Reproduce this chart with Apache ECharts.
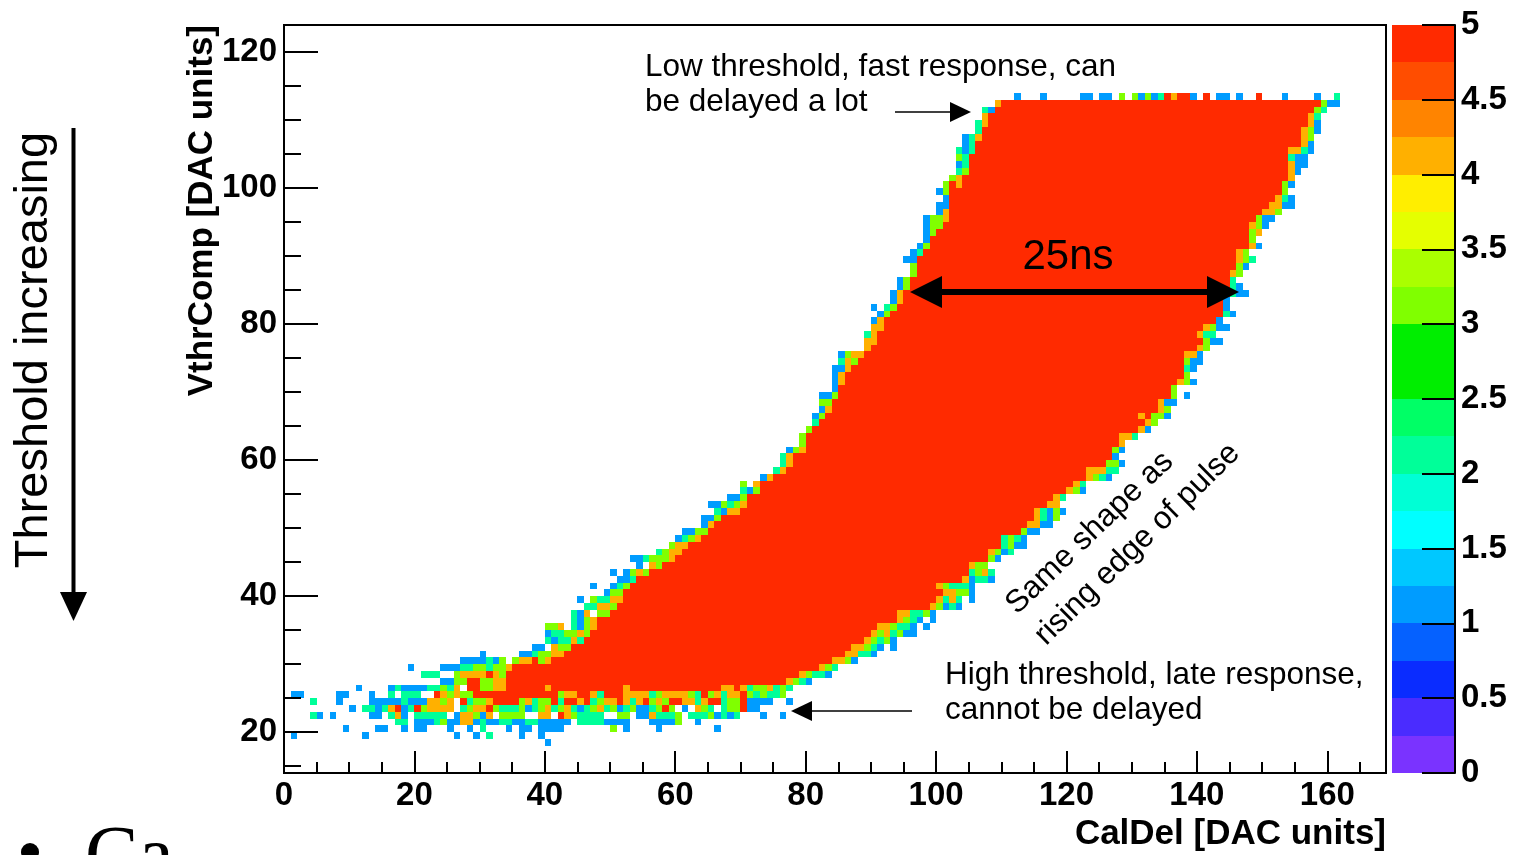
<!DOCTYPE html>
<html>
<head>
<meta charset="utf-8">
<title>VthrComp vs CalDel</title>
<script src="https://cdn.jsdelivr.net/npm/echarts@6.0.0/dist/echarts.min.js"></script>
<style>
  html, body { margin: 0; padding: 0; background: #fff; }
  #chart-container { width: 1514px; height: 855px; }
</style>
</head>
<body>
<div id="chart-container"></div>
<script>
// colour bar of the histogram, 20 bands from 0 (bottom) to 5 (top)
var palette = [
  '#7a33ff', '#4a2cff', '#0a2cff', '#0561ff', '#009cff',
  '#00c8ff', '#00ffff', '#00ffd5', '#00ff99', '#00ff66',
  '#00ee00', '#00ee00', '#80ff00', '#aaff00', '#e5ff00',
  '#ffee00', '#ffb000', '#ff8400', '#ff4d00', '#ff2a00'
];

var xMajorTicks = [0, 20, 40, 60, 80, 100, 120, 140, 160];
var xMinorTicks = [5, 10, 15, 25, 30, 35, 45, 50, 55, 65, 70, 75, 85, 90, 95,
                   105, 110, 115, 125, 130, 135, 145, 150, 155, 165];
var yMajorTicks = [20, 40, 60, 80, 100, 120];
var yMinorTicks = [15, 25, 30, 35, 45, 50, 55, 65, 70, 75, 85, 90, 95, 105, 110, 115];
var zTicks = [0, 0.5, 1, 1.5, 2, 2.5, 3, 3.5, 4, 4.5, 5];

// rows of the band: VthrComp bin, first and last+1 CalDel bin of the full (5) run,
// and the cells just left / right of that run ('.' = empty)
var bandRows  = [27, 28, 29, 30, 31, 32, 33, 34, 35, 36,
                 37, 38, 39, 40, 41, 42, 43, 44, 45, 46,
                 47, 48, 49, 50, 51, 52, 53, 54, 55, 56,
                 57, 58, 59, 60, 61, 62, 63, 64, 65, 66,
                 67, 68, 69, 70, 71, 72, 73, 74, 75, 76,
                 77, 78, 79, 80, 81, 82, 83, 84, 85, 86,
                 87, 88, 89, 90, 91, 92, 93, 94, 95, 96,
                 97, 98, 99, 100, 101, 102, 103, 104, 105, 106,
                 107, 108, 109, 110, 111, 112];
var redStart  = [34, 34, 35, 41, 43, 44, 46, 47, 48, 48,
                 50, 51, 52, 52, 53, 54, 56, 58, 60, 61,
                 62, 64, 65, 66, 67, 70, 71, 71, 73, 73,
                 75, 77, 78, 78, 80, 80, 80, 81, 82, 83,
                 84, 84, 85, 85, 86, 86, 87, 88, 89, 90,
                 91, 91, 92, 92, 93, 94, 95, 95, 96, 96,
                 97, 97, 97, 98, 99, 99, 100, 101, 102, 102,
                 102, 102, 102, 104, 104, 105, 105, 105, 106, 106,
                 107, 107, 108, 108, 109, 110];
var redEnd    = [77, 79, 82, 84, 86, 87, 89, 90, 91, 94,
                 94, 99, 100, 101, 100, 104, 105, 105, 108, 108,
                 110, 110, 113, 114, 115, 115, 117, 118, 120, 121,
                 123, 123, 126, 127, 127, 128, 128, 131, 132, 131,
                 134, 134, 136, 136, 137, 138, 138, 138, 138, 140,
                 141, 140, 141, 143, 144, 144, 144, 145, 145, 145,
                 145, 146, 146, 146, 148, 148, 148, 148, 149, 150,
                 151, 152, 153, 153, 154, 154, 154, 154, 154, 156,
                 156, 156, 157, 157, 158, 159];
var leftEdge  = ['1133553344', '222..34444543', '1....11122332334', '1111213.344534', '1.....1123344',
                 '11.433', '212242', '1223343', '334.2134', '2134',
                 '214.33', '22443', '1.32244', '133', '1..123',
                 '112', '1.1343', '1.43', '1123334', '2344',
                 '344', '1234', '1133', '14', '113',
                 '2144', '113234', '113', '213', '3.4',
                 '14', '24', '24', '24', '134',
                 '3', '3', '3', '2', '13',
                 '14', '33', '113', '1', '14',
                 '14', '114', '243', '1344', '4',
                 '44', '24', '44', '14', '13',
                 '1.23', '14', '14', '13', '13',
                 '3', '3', '11', '12', '13',
                 '1', '13', '133', '1334', '14',
                 '11', '1', '13', '354', '34',
                 '23', '12', '32', '212', '12',
                 '124', '2', '24', '4', '21', '4'];
var rightEdge = ['4321', '43221', '432', '4431', '44221',
                 '44321.1', '43231', '4342311', '443221.1', '4321.1',
                 '442231', '43121', '4242.1', '44331', '432221',
                 '41221', '2342', '433', '31', '4312',
                 '2311', '2321', '311', '4411', '4213',
                 '42131', '44', '42', '431', '42',
                 '4321', '44422', '331', '1', '31',
                 '4', '442', '41', '43', '45331',
                 '43', '411', '3.1', '3', '431',
                 '3', '21', '311', '441', '43',
                 '311', '422', '4311', '1', '21',
                 '1', '1', '211', '21', '2',
                 '43', '31', '432', '43', '41',
                 '3', '34', '431', '311', '443',
                 '4411', '421', '3', '31', '4',
                 '41', '411', '211', '4421', '41',
                 '43', '431', '41', '42', '32', '311'];

// scattered rows below the band and above its top, read cell by cell from the left
var sparseRows  = [18, 19, 20, 21, 22, 23, 24, 25, 26, 113];
var sparseStart = [0, 0, 0, 0, 0, 0, 0, 0, 0, 110];
var sparseCells = [
  '..........' + '..........' + '..........' + '..........' + '1',
  '.1........' + '..1.......' + '......1..1' + '.2....1..1',
  '.........1' + '....11..1.' + '11...1..1.' + '2...1.11.1' + '111.......' + '3.1....1..' + '......1...',
  '..........' + '.......22.' + '1112311441' + '2112211221' + '1111.22221' + '111...1111' + '3..1......',
  '....21.1..' + '...11.241.' + '22222.1443' + '14.3333..4' + '4.5432222.' + '.33.114222' + '3.22231212' + '...1..1...',
  '..........' + '1.22124512' + '534444.234' + '4532223123' + '4234212342' + '3123112353' + '.1.432.233' + '511',
  '....2...1.' + '...1111121' + '114434.523' + '3455553423' + '3525545234' + '4542453435' + '5442455233' + '51111..1',
  '.11.....11' + '...1..2.22' + '2..5434335' + '5555555555' + '5534455425' + '5544442344' + '4432534244' + '5323223',
  '..........' + '.1....1211' + '1122324.55' + '3344555555' + '4555555555' + '5545555555' + '5555555445' + '42334232',
  '..1...1...' + '..11.11.3.' + '3131254551' + '.5.11.1..5' + '...1....1.' + '.2'
];

// cells as [x0, x1, y, value], equal neighbours merged into one run
var cells = [];
function addRow(y, x0, s) {
  var k = 0;
  while (k < s.length) {
    var c = s.charAt(k);
    if (c === '.') { k++; continue; }
    var e = k;
    while (e + 1 < s.length && s.charAt(e + 1) === c) e++;
    cells.push([x0 + k, x0 + e + 1, y, +c]);
    k = e + 1;
  }
}
for (var i = 0; i < bandRows.length; i++) {
  cells.push([redStart[i], redEnd[i], bandRows[i], 5]);
  addRow(bandRows[i], redStart[i] - leftEdge[i].length, leftEdge[i]);
  addRow(bandRows[i], redEnd[i], rightEdge[i]);
}
for (i = 0; i < sparseRows.length; i++) {
  addRow(sparseRows[i], sparseStart[i], sparseCells[i]);
}

function colourOf(v) {
  var idx = Math.min(palette.length - 1, Math.floor(v / 5 * palette.length));
  return palette[idx];
}

var dom = document.getElementById('chart-container');
var myChart = echarts.init(dom, null, { renderer: 'canvas' });

var labelFont = { color: '#000', fontFamily: 'Liberation Sans', fontWeight: 'bold', fontSize: 33 };
var tickStyle = { color: '#000', width: 2 };
var noteFont = '31.5px "Liberation Sans"';

var option = {
  animation: false,
  backgroundColor: '#fff',
  grid: [
    { left: 284, top: 25, width: 1102, height: 748, show: true, z: 10,
      borderColor: '#000', borderWidth: 2, backgroundColor: 'transparent' },
    { left: 1392, top: 25, width: 63, height: 748 }
  ],
  xAxis: [
    { gridIndex: 0, type: 'value', min: 0, max: 169, position: 'bottom', z: 10,
      axisLine: { show: false, onZero: false }, splitLine: { show: false },
      axisTick: { inside: true, length: 22, customValues: xMajorTicks, lineStyle: tickStyle },
      axisLabel: Object.assign({ customValues: xMajorTicks, margin: 6 }, labelFont) },
    { gridIndex: 0, type: 'value', min: 0, max: 169, position: 'bottom', z: 10,
      axisLine: { show: false, onZero: false }, splitLine: { show: false },
      axisTick: { inside: true, length: 11, customValues: xMinorTicks, lineStyle: tickStyle },
      axisLabel: { show: false } },
    { gridIndex: 1, type: 'value', min: 0, max: 1, show: false }
  ],
  yAxis: [
    { gridIndex: 0, type: 'value', min: 14, max: 124, position: 'left', z: 10,
      axisLine: { show: false, onZero: false }, splitLine: { show: false },
      axisTick: { inside: true, length: 34, customValues: yMajorTicks, lineStyle: tickStyle },
      axisLabel: Object.assign({ customValues: yMajorTicks, margin: 7 }, labelFont) },
    { gridIndex: 0, type: 'value', min: 14, max: 124, position: 'left', z: 10,
      axisLine: { show: false, onZero: false }, splitLine: { show: false },
      axisTick: { inside: true, length: 17, customValues: yMinorTicks, lineStyle: tickStyle },
      axisLabel: { show: false } },
    { gridIndex: 1, type: 'value', min: 0, max: 5, position: 'right', z: 10,
      axisLine: { show: true, onZero: false, lineStyle: tickStyle }, splitLine: { show: false },
      axisTick: { inside: true, length: 33, customValues: zTicks, lineStyle: tickStyle },
      axisLabel: Object.assign({ customValues: zTicks, margin: 6 }, labelFont) }
  ],
  series: [
    {
      name: 'hits',
      type: 'custom',
      xAxisIndex: 0,
      yAxisIndex: 0,
      silent: true,
      z: 2,
      encode: { x: [0, 1], y: 2 },
      renderItem: function (params, api) {
        var p0 = api.coord([api.value(0), api.value(2) + 1]);
        var p1 = api.coord([api.value(1), api.value(2)]);
        var x0 = Math.round(p0[0]), y0 = Math.round(p0[1]);
        return {
          type: 'rect',
          shape: { x: x0, y: y0, width: Math.round(p1[0]) - x0, height: Math.round(p1[1]) - y0 },
          style: { fill: colourOf(api.value(3)) }
        };
      },
      data: cells
    },
    {
      name: 'palette',
      type: 'custom',
      xAxisIndex: 2,
      yAxisIndex: 2,
      silent: true,
      z: 2,
      renderItem: function (params, api) {
        var step = 5 / palette.length;
        var i = api.value(0);
        var p0 = api.coord([0, (i + 1) * step]);
        var p1 = api.coord([1, i * step]);
        var y0 = Math.round(p0[1]);
        return {
          type: 'rect',
          shape: { x: Math.round(p0[0]), y: y0, width: Math.round(p1[0] - p0[0]), height: Math.round(p1[1]) - y0 },
          style: { fill: palette[i] }
        };
      },
      data: palette.map(function (c, i) { return [i]; })
    }
  ],
  graphic: [
    // axis titles
    { type: 'text', x: 202, y: 25, rotation: Math.PI / 2,
      style: { text: 'VthrComp [DAC units]', font: 'bold 35px "Liberation Sans"', fill: '#000',
               align: 'right', textAlign: 'right', verticalAlign: 'middle', textVerticalAlign: 'middle' } },
    { type: 'text', x: 1386, y: 834,
      style: { text: 'CalDel [DAC units]', font: 'bold 35px "Liberation Sans"', fill: '#000',
               align: 'right', textAlign: 'right', verticalAlign: 'middle', textVerticalAlign: 'middle' } },

    // threshold direction on the left
    { type: 'text', x: 34, y: 350, rotation: Math.PI / 2,
      style: { text: 'Threshold increasing', font: '47px "Liberation Sans"', fill: '#000',
               align: 'center', textAlign: 'center', verticalAlign: 'middle', textVerticalAlign: 'middle' } },
    { type: 'line', shape: { x1: 73.5, y1: 128, x2: 73.5, y2: 596 }, style: { stroke: '#000', lineWidth: 4 } },
    { type: 'polygon', shape: { points: [[60, 592], [87, 592], [73.5, 621]] }, style: { fill: '#000' } },

    // top note
    { type: 'text', x: 645, y: 67,
      style: { text: 'Low threshold, fast response, can', font: noteFont, fill: '#000',
               align: 'left', textAlign: 'left', verticalAlign: 'middle', textVerticalAlign: 'middle' } },
    { type: 'text', x: 645, y: 102,
      style: { text: 'be delayed a lot', font: noteFont, fill: '#000',
               align: 'left', textAlign: 'left', verticalAlign: 'middle', textVerticalAlign: 'middle' } },
    { type: 'line', shape: { x1: 895, y1: 112, x2: 952, y2: 112 }, style: { stroke: '#000', lineWidth: 1.5 } },
    { type: 'polygon', shape: { points: [[950, 102], [971, 112], [950, 122]] }, style: { fill: '#000' } },

    // 25 ns width
    { type: 'text', x: 1068, y: 257, z: 100,
      style: { text: '25ns', font: '42px "Liberation Sans"', fill: '#000',
               align: 'center', textAlign: 'center', verticalAlign: 'middle', textVerticalAlign: 'middle' } },
    { type: 'line', z: 100, shape: { x1: 938, y1: 292, x2: 1210, y2: 292 }, style: { stroke: '#000', lineWidth: 6 } },
    { type: 'polygon', z: 100, shape: { points: [[910, 292], [942, 276], [942, 308]] }, style: { fill: '#000' } },
    { type: 'polygon', z: 100, shape: { points: [[1239, 292], [1207, 276], [1207, 308]] }, style: { fill: '#000' } },

    // rising edge note
    { type: 'text', x: 1011, y: 609, rotation: 44 * Math.PI / 180,
      style: { text: 'Same shape as', font: noteFont, fill: '#000',
               align: 'left', textAlign: 'left', verticalAlign: 'middle', textVerticalAlign: 'middle' } },
    { type: 'text', x: 1040, y: 640, rotation: 44.5 * Math.PI / 180,
      style: { text: 'rising edge of pulse', font: noteFont, fill: '#000',
               align: 'left', textAlign: 'left', verticalAlign: 'middle', textVerticalAlign: 'middle' } },

    // bottom note
    { type: 'text', x: 945, y: 675,
      style: { text: 'High threshold, late response,', font: noteFont, fill: '#000',
               align: 'left', textAlign: 'left', verticalAlign: 'middle', textVerticalAlign: 'middle' } },
    { type: 'text', x: 945, y: 710,
      style: { text: 'cannot be delayed', font: noteFont, fill: '#000',
               align: 'left', textAlign: 'left', verticalAlign: 'middle', textVerticalAlign: 'middle' } },
    { type: 'line', shape: { x1: 810, y1: 711, x2: 912, y2: 711 }, style: { stroke: '#000', lineWidth: 1.5 } },
    { type: 'polygon', shape: { points: [[791, 711], [812, 701], [812, 721]] }, style: { fill: '#000' } },

    // slide text cut at the bottom edge
    { type: 'circle', shape: { cx: 30, cy: 852, r: 9 }, style: { fill: '#000' } },
    { type: 'text', x: 85, y: 820,
      style: { text: 'Ca', font: '80px "Liberation Serif"', fill: '#000',
               align: 'left', textAlign: 'left', verticalAlign: 'top', textVerticalAlign: 'top' } }
  ]
};

myChart.setOption(option);
window.addEventListener('resize', myChart.resize);
</script>
</body>
</html>
